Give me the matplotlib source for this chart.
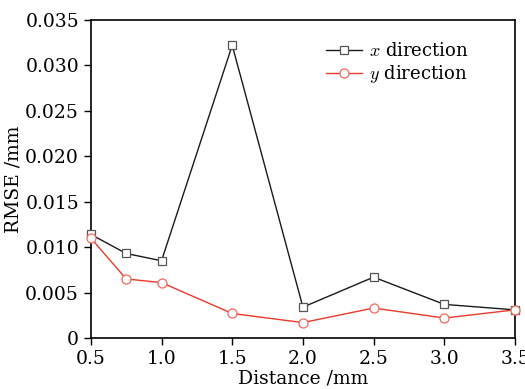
import numpy as np
import matplotlib
matplotlib.use('Agg')
import matplotlib.pyplot as plt

plt.rcParams['font.family'] = ['DejaVu Serif']
plt.rcParams['mathtext.fontset'] = 'cm'

# distances (mm) and RMSE values
distance = [0.5, 0.75, 1.0, 1.5, 2.0, 2.5, 3.0, 3.5]
rmse_x = [0.0114, 0.0093, 0.0085, 0.0322, 0.0034, 0.0067, 0.0037, 0.0031]
rmse_y = [0.0110, 0.0065, 0.0061, 0.0027, 0.0017, 0.0033, 0.0022, 0.0031]
xticks = [0.5, 1.0, 1.5, 2.0, 2.5, 3.0, 3.5]
yticks = [0, 0.005, 0.010, 0.015, 0.020, 0.025, 0.030, 0.035]
ytick_labels = ['0', '0.005', '0.010', '0.015', '0.020', '0.025', '0.030', '0.035']

fig = plt.figure(figsize=(5.25, 3.89), dpi=100)
ax = fig.add_axes([0.173, 0.131, 0.808, 0.818])

ax.plot(distance, rmse_x, '-', color='#1a1a1a', linewidth=1.0,
        marker='s', markersize=5.5, markerfacecolor='white', markeredgecolor='#555555',
        markeredgewidth=0.9, label=r'$x$ direction', clip_on=False, zorder=3)
ax.plot(distance, rmse_y, '-', color='#e8392b', linewidth=1.0,
        marker='o', markersize=6.5, markerfacecolor='white', markeredgecolor='#ef6a5c',
        markeredgewidth=0.9, label=r'$y$ direction', clip_on=False, zorder=3)

ax.set_xlim(0.5, 3.5)
ax.set_ylim(0, 0.035)
ax.set_xticks(xticks)
ax.set_xticklabels([f'{v:.1f}' for v in xticks])
ax.set_yticks(yticks)
ax.set_yticklabels(ytick_labels)
ax.tick_params('both', direction='out', labelsize=13.5, length=5, width=1.0)
for s in ax.spines.values():
    s.set_linewidth(1.2)

ax.set_xlabel('Distance /mm', fontsize=13.5, labelpad=1)
ax.set_ylabel('RMSE /mm', fontsize=13.5, labelpad=2)

ax.legend(loc='upper right', bbox_to_anchor=(0.93, 0.98), frameon=False, fontsize=13,
          handlelength=2.0, handletextpad=0.4, labelspacing=0.15)

plt.savefig('out.png', dpi=100)
